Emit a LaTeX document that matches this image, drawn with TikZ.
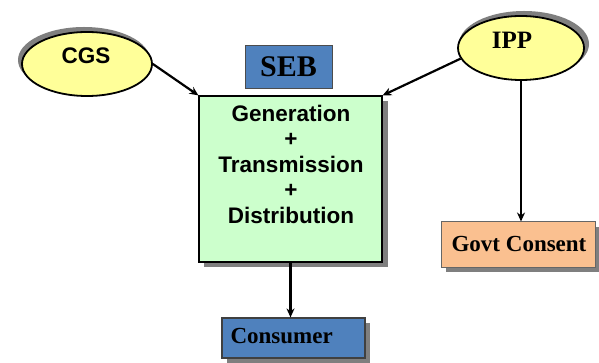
\documentclass[tikz,border=0pt]{standalone}
\usepackage{fontspec}
\setmainfont{Liberation Serif}
\setsansfont{Liberation Sans}
\usetikzlibrary{shapes.geometric,arrows.meta}
\definecolor{ovalfill}{HTML}{FFFF99}
\definecolor{corefill}{HTML}{CCFFCC}
\definecolor{bluefill}{HTML}{4F81BD}
\definecolor{peachfill}{HTML}{FAC090}
\definecolor{shade}{HTML}{7F7F7F}
\tikzset{
  oval/.style={ellipse, draw=black, line width=1.8pt, fill=ovalfill, inner sep=0pt},
  ovalshade/.style={ellipse, fill=shade, draw=none, inner sep=0pt},
  boxshade/.style={fill=shade, draw=none},
  flow/.style={line width=2.2pt, -{Stealth[length=9pt,width=8pt]}},
  sanslabel/.style={font=\sffamily\bfseries\fontsize{22.5}{25.5}\selectfont},
  seriflabel/.style={font=\rmfamily\bfseries\fontsize{23}{26}\selectfont},
}
\begin{document}
\begin{tikzpicture}[x=1pt,y=-1pt]
\useasboundingbox (0,0) rectangle (599,363);
\fill[white] (0,0) rectangle (599,363);

% CGS oval with its shadow
\node[ovalshade, minimum width=132pt, minimum height=66pt] (cgsshade) at (84,60) {};
\node[oval, minimum width=130pt, minimum height=64pt] (cgs) at (87,64) {};
\node[sanslabel] (cgstext) at (86,56) {CGS};

% IPP oval with its shadow
\node[ovalshade, minimum width=130pt, minimum height=66pt] (ippshade) at (524,44) {};
\node[oval, minimum width=126pt, minimum height=64pt] (ipp) at (521,48) {};
\node[seriflabel, font=\rmfamily\bfseries\fontsize{25}{28}\selectfont] (ipptext) at (512,40) {IPP};

% SEB heading box
\node[draw=black!70, line width=0.8pt, fill=bluefill, minimum width=87pt, minimum height=43pt,
      font=\rmfamily\bfseries\fontsize{30}{33}\selectfont] (seb) at (288.5,66.5) {SEB};

% central box
\fill[boxshade] (204,101) rectangle (388,267);
\node[draw=black, line width=1.2pt, fill=corefill, minimum width=183pt, minimum height=166pt,
      inner sep=0pt] (core) at (290.5,179) {};
\node[sanslabel, align=center] (coretext) at (291,164) {Generation\\+\\Transmission\\+\\Distribution};

% consumer box
\fill[boxshade] (227,323) rectangle (370,363);
\node[draw=black!75, line width=1.2pt, fill=bluefill, minimum width=143pt, minimum height=40pt,
      inner sep=0pt] (consumer) at (293.5,338) {};
\node[seriflabel, anchor=west] (consumertext) at (227,336) {Consumer};

% consent box
\fill[boxshade] (446,227) rectangle (600,272);
\node[draw=black!60, line width=1pt, fill=peachfill, minimum width=154pt, minimum height=45pt,
      inner sep=0pt] (consent) at (518,244.5) {};
\node[seriflabel] (consenttext) at (519,244) {Govt Consent};

% connectors
\draw[flow] (cgs.east) -- (core.north west);
\draw[flow] (ipp.190) -- (core.north east);
\draw[flow] (ipp.south) -- (ipp.south |- consent.north);
\draw[flow] (core.south) -- (consumer.north -| core.south);
\end{tikzpicture}
\end{document}
